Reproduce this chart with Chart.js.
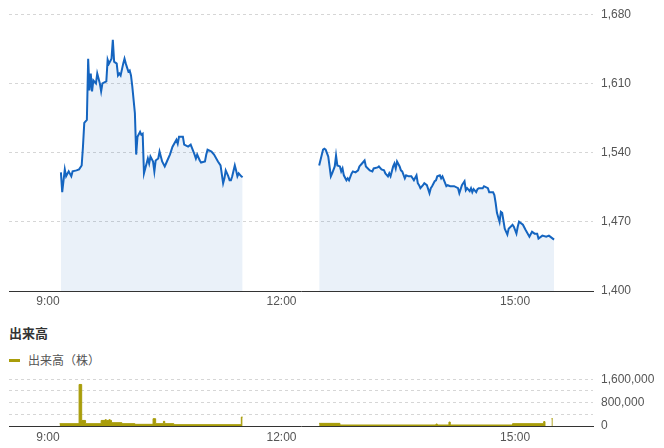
<!DOCTYPE html>
<html>
<head>
<meta charset="utf-8">
<script src="https://cdn.jsdelivr.net/npm/chart.js@4/dist/chart.umd.min.js"></script>
<style>
body { margin: 0; background: #fff; }
#wrap { position: relative; width: 664px; height: 448px; overflow: hidden; }
#priceCanvas { position: absolute; left: 0; top: -1px; }
#volCanvas { position: absolute; left: 0; top: 364px; }
#volTitle { position: absolute; left: 9px; top: 325px; font: bold 13px "Noto Sans CJK JP", sans-serif; color: #333; line-height: 16px; }
#volLegend { position: absolute; left: 9px; top: 353px; font: 12px "Noto Sans CJK JP", sans-serif; color: #555; line-height: 14px; }
#volLegend i { display: inline-block; width: 11px; height: 3px; background: #a99d0a; vertical-align: middle; margin-right: 8px; margin-top: -3px; }
</style>
</head>
<body>
<div id="wrap">
  <canvas id="priceCanvas" width="664" height="314"></canvas>
  <div id="volTitle">出来高</div>
  <div id="volLegend"><i></i>出来高（株）</div>
  <canvas id="volCanvas" width="664" height="84"></canvas>
</div>
<script>
// minutes after 9:00
const amMinutes = [10,11,13,14,16,18,19,22,24,26,27,28,30,31,32,33,34,35,37,38,40,41,42,45,46,47,49,50,51,53,54,55,56,58,59,60,62,63,64,65,67,68,69,71,72,73,74,76,77,78,79,81,82,83,85,86,87,88,90,91,92,94,96,99,100,101,104,105,108,110,113,114,115,117,118,121,122,123,126,128,131,133,135,136,137,139,140,141,142,144,145,146,147,149,150];
const amPrices = [1520,1500,1523,1516,1521,1516,1521,1522,1523,1527,1546,1570,1573,1635,1603,1620,1602,1613,1610,1620,1610,1602,1610,1612,1634,1630,1635,1654,1632,1630,1618,1620,1618,1630,1635,1630,1622,1623,1618,1607,1580,1538,1556,1561,1558,1559,1519,1529,1534,1529,1536,1531,1521,1532,1534,1541,1536,1531,1526,1529,1532,1538,1546,1553,1549,1556,1556,1548,1546,1548,1538,1534,1538,1532,1530,1531,1538,1543,1541,1538,1531,1527,1509,1514,1522,1516,1512,1512,1516,1527,1522,1516,1519,1516,1515];
const pmMinutes = [209,212,213,214,216,217,218,219,221,222,223,225,226,227,228,230,231,232,234,235,237,239,240,242,244,245,248,250,251,254,255,257,259,260,262,263,264,266,267,268,269,271,272,273,275,276,278,280,282,284,285,286,287,289,290,292,294,295,296,298,299,300,302,303,304,307,308,310,313,316,317,319,321,322,323,325,326,327,328,330,331,332,335,336,339,340,343,344,345,346,348,349,350,352,353,354,355,358,359,361,362,363,366,368,371,373,375,377,378,381,384,386,387,390];
const pmPrices = [1527,1543,1544,1543,1536,1526,1516,1519,1526,1537,1527,1526,1521,1524,1517,1512,1514,1512,1519,1521,1520,1522,1526,1529,1532,1526,1522,1521,1524,1525,1526,1523,1522,1519,1516,1519,1516,1526,1529,1524,1531,1526,1522,1521,1514,1517,1516,1516,1512,1517,1509,1507,1504,1507,1509,1507,1499,1504,1506,1511,1512,1516,1517,1514,1516,1506,1507,1506,1506,1504,1499,1507,1511,1502,1504,1501,1504,1500,1503,1500,1503,1504,1504,1506,1504,1500,1500,1497,1489,1479,1470,1480,1479,1463,1460,1457,1463,1467,1465,1458,1465,1470,1467,1462,1455,1460,1458,1458,1453,1456,1455,1456,1455,1452];

// volume: each value holds until the next minute listed
const volAmMinutes = [9,24,26,29,41,44,45,47,48,49,57,67,81,83,89,90,97,149,150];
const volAmValues = [80000,1420000,190000,80000,190000,215000,190000,215000,190000,113000,80000,57000,250000,80000,160000,80000,45000,306000,306000];
const volPmMinutes = [209,225,299,300,309,310,358,382,383,384,388,389];
const volPmValues = [90000,34000,68000,34000,136000,34000,80000,150000,0,null,250000,250000];

const xTickMinutes = [0, 180, 360];
const xTickLabels = ['9:00', '12:00', '15:00'];
const priceTicks = [1400, 1470, 1540, 1610, 1680];
const volTicks = [0, 400000, 800000, 1200000, 1600000];
const volTickLabels = ['0', '', '800,000', '', '1,600,000'];

const lineBlue = '#1565c0';
const olive = '#a99d0a';

Chart.defaults.font.family = '"Liberation Sans", Arial, sans-serif';
Chart.defaults.font.size = 12;
Chart.defaults.color = '#555';

function pts(xs, ys) {
    return xs.map(function (x, i) { return { x: x, y: ys[i] }; });
}

function xAxis(pad) {
    return {
        type: 'linear',
        min: -30,
        max: 420,
        grid: { display: false, drawTicks: false },
        border: { display: true, color: '#333', width: 1 },
        afterBuildTicks: function (s) { s.ticks = xTickMinutes.map(function (v) { return { value: v }; }); },
        afterFit: function (s) { s.height = 22; },
        ticks: {
            maxRotation: 0,
            padding: pad,
            color: '#555',
            callback: function (v) { return xTickLabels[xTickMinutes.indexOf(v)]; }
        }
    };
}

const priceDs = function (xs, ys) {
    return {
        data: pts(xs, ys),
        borderColor: lineBlue,
        borderWidth: 2,
        backgroundColor: 'rgba(21, 101, 192, 0.09)',
        fill: 'start',
        pointRadius: 0,
        tension: 0
    };
};

new Chart(document.getElementById('priceCanvas').getContext('2d'), {
    type: 'line',
    data: { datasets: [priceDs(amMinutes, amPrices), priceDs(pmMinutes, pmPrices)] },
    options: {
        responsive: false,
        animation: false,
        layout: { padding: { left: 9, top: 0, right: 0, bottom: 0 } },
        plugins: { legend: { display: false }, tooltip: { enabled: false } },
        scales: {
            x: xAxis(3),
            y: {
                position: 'right',
                min: 1400,
                max: 1680,
                afterBuildTicks: function (s) { s.ticks = priceTicks.map(function (v) { return { value: v }; }); },
                afterFit: function (s) { s.width = 71; },
                grid: { color: '#d6d6d6', drawTicks: false },
                border: { display: false, dash: [3, 3] },
                ticks: {
                    padding: 8,
                    color: '#555',
                    callback: function (v) { return v.toLocaleString('en-US'); }
                }
            }
        }
    }
});

const volDs = function (xs, ys) {
    return {
        data: pts(xs, ys),
        borderColor: olive,
        borderWidth: 1,
        backgroundColor: olive,
        fill: 'origin',
        stepped: true,
        pointRadius: 0,
        spanGaps: false
    };
};

new Chart(document.getElementById('volCanvas').getContext('2d'), {
    type: 'line',
    data: { datasets: [volDs(volAmMinutes, volAmValues), volDs(volPmMinutes, volPmValues)] },
    options: {
        responsive: false,
        animation: false,
        layout: { padding: { left: 9, top: 0, right: 0, bottom: 0 } },
        plugins: { legend: { display: false }, tooltip: { enabled: false } },
        scales: {
            x: xAxis(4),
            y: {
                position: 'right',
                min: 0,
                max: 1600000,
                afterBuildTicks: function (s) { s.ticks = volTicks.map(function (v) { return { value: v }; }); },
                afterFit: function (s) { s.width = 71; },
                grid: { color: '#d6d6d6', drawTicks: false },
                border: { display: false, dash: [3, 3] },
                ticks: {
                    padding: 8,
                    color: '#555',
                    autoSkip: false,
                    callback: function (v) { return volTickLabels[volTicks.indexOf(v)]; }
                }
            }
        }
    }
});
</script>
</body>
</html>
